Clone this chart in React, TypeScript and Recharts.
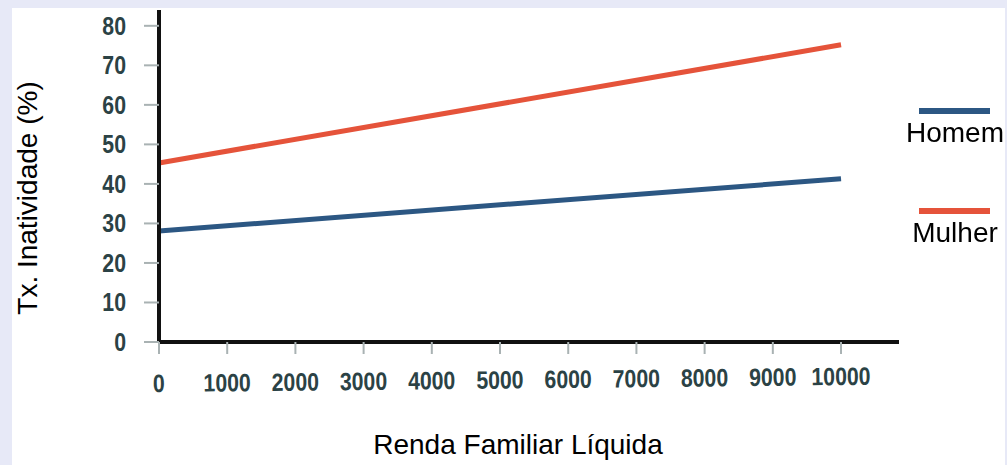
import { LineChart, Line, XAxis, YAxis } from "recharts"

const renda = [0, 10000]
const homem = [28.1, 41.3]
const mulher = [45.3, 75.2]
const xTicks = [0, 1000, 2000, 3000, 4000, 5000, 6000, 7000, 8000, 9000, 10000]
const yTicks = [0, 10, 20, 30, 40, 50, 60, 70, 80]

const COLORS = {
  homem: "#2c5783",
  mulher: "#e5533a",
  tick: "#2b4245",
  tickLine: "#a9b2b3",
}

const data = renda.map((r, i) => ({ renda: r, Homem: homem[i], Mulher: mulher[i] }))

const FONT = "'Liberation Sans', Arial, sans-serif"

function YTick(props: any) {
  const { x, y, payload } = props
  return (
    <g transform={`translate(${x - 16} ${y + 9}) scale(0.85 1)`}>
      <text x={0} y={0} textAnchor="end" fontFamily={FONT} fontWeight="bold" fontSize={25} fill={COLORS.tick}>
        {payload.value}
      </text>
    </g>
  )
}

function XTick(props: any) {
  const { x, y, payload } = props
  const lift = payload.value * 0.0007
  return (
    <g transform={`translate(${x} ${y + 36 - lift}) rotate(-0.7) scale(0.85 1)`}>
      <text x={0} y={0} textAnchor="middle" fontFamily={FONT} fontWeight="bold" fontSize={25} fill={COLORS.tick}>
        {payload.value}
      </text>
    </g>
  )
}

function LegendBox() {
  const items = [
    { name: "Homem", color: COLORS.homem, top: 0 },
    { name: "Mulher", color: COLORS.mulher, top: 100 },
  ]
  return (
    <div style={{ position: "absolute", left: 890, top: 95, width: 117, height: 170 }}>
      {items.map((it) => (
        <div key={it.name} style={{ position: "absolute", top: it.top, left: 0, width: 117 }}>
          <div style={{ position: "absolute", left: 29, top: 13, width: 71, height: 6, background: it.color }} />
          <div
            style={{
              position: "absolute",
              left: 0,
              top: 22,
              width: 130,
              textAlign: "center",
              fontFamily: FONT,
              fontSize: 28,
              color: "#000",
            }}
          >
            {it.name}
          </div>
        </div>
      ))}
    </div>
  )
}

export default function App() {
  return (
    <div style={{ position: "fixed", left: 0, top: 0, width: 1007, height: 465, background: "#e7e9f7" }}>
      <div style={{ position: "absolute", left: 12, top: 8, width: 993, height: 457, background: "#fff" }} />
      <div style={{ position: "absolute", left: 0, top: 0 }}>
        <LineChart width={1007} height={465} data={data} margin={{ top: 10, right: 108, bottom: 0, left: 0 }}>
          <XAxis
            dataKey="renda"
            type="number"
            domain={[0, 10850]}
            ticks={xTicks}
            height={123}
            tickSize={12}
            axisLine={{ stroke: "#111", strokeWidth: 4 }}
            tickLine={{ stroke: COLORS.tickLine, strokeWidth: 2 }}
            tick={<XTick />}
            interval={0}
          />
          <YAxis
            type="number"
            domain={[0, 84]}
            ticks={yTicks}
            width={159}
            tickSize={15}
            axisLine={{ stroke: "#111", strokeWidth: 4 }}
            tickLine={{ stroke: COLORS.tickLine, strokeWidth: 2 }}
            tick={<YTick />}
            interval={0}
          />
          <Line type="linear" dataKey="Homem" stroke={COLORS.homem} strokeWidth={5} dot={false} isAnimationActive={false} />
          <Line type="linear" dataKey="Mulher" stroke={COLORS.mulher} strokeWidth={5} dot={false} isAnimationActive={false} />
        </LineChart>
      </div>
      <LegendBox />
      <div
        style={{
          position: "absolute",
          left: 28,
          top: 198,
          transform: "translate(-50%, -50%) rotate(-90deg)",
          whiteSpace: "nowrap",
          fontFamily: FONT,
          fontSize: 28,
          color: "#000",
        }}
      >
        Tx. Inatividade (%)
      </div>
      <div
        style={{
          position: "absolute",
          left: 518,
          top: 445,
          transform: "translate(-50%, -50%)",
          whiteSpace: "nowrap",
          fontFamily: FONT,
          fontSize: 28,
          color: "#000",
        }}
      >
        Renda Familiar Líquida
      </div>
    </div>
  )
}
